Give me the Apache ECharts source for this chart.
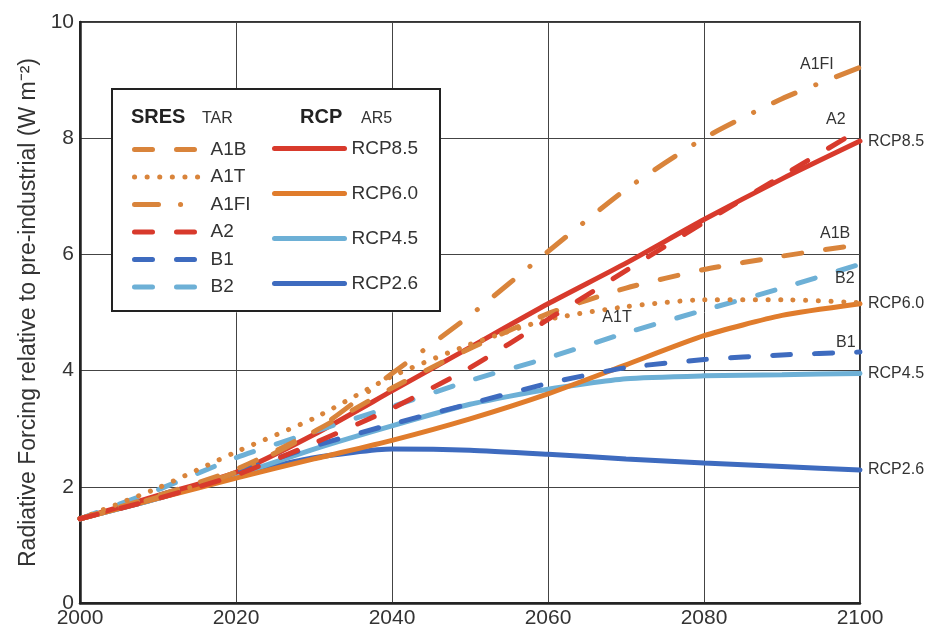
<!DOCTYPE html>
<html>
<head>
<meta charset="utf-8">
<script src="https://cdn.jsdelivr.net/npm/echarts@6/dist/echarts.min.js"></script>
<style>
  html, body { margin: 0; padding: 0; background: #fff; }
  #chart { width: 930px; height: 629px; }
</style>
</head>
<body>
<div id="chart"></div>
<script>
// years on the x axis
const years = [2000, 2010, 2020, 2030, 2040, 2050, 2060, 2070, 2080, 2090, 2100];

// RCP (AR5) forcing, W m-2
const rcp85 = [1.45, 1.85, 2.25, 2.9, 3.65, 4.4, 5.15, 5.85, 6.6, 7.3, 7.95];
const rcp60 = [1.45, 1.8, 2.15, 2.48, 2.8, 3.17, 3.6, 4.1, 4.6, 4.95, 5.15];
const rcp45 = [1.45, 1.8, 2.2, 2.65, 3.05, 3.42, 3.68, 3.86, 3.91, 3.93, 3.95];
const rcp26 = [1.45, 1.8, 2.2, 2.5, 2.65, 2.63, 2.56, 2.48, 2.41, 2.35, 2.29];

// SRES (TAR) forcing, W m-2
const a1b = [1.45, 1.85, 2.3, 2.95, 3.7, 4.38, 4.98, 5.42, 5.74, 5.97, 6.17];
const a1t = [1.45, 1.98, 2.6, 3.18, 3.9, 4.45, 4.88, 5.1, 5.22, 5.22, 5.17];
const a1fi = [1.45, 1.82, 2.25, 2.95, 3.95, 4.95, 6.05, 7.12, 8.0, 8.68, 9.22];
const a2 = [1.45, 1.8, 2.2, 2.75, 3.35, 4.05, 4.88, 5.72, 6.55, 7.35, 8.15];
const b1 = [1.45, 1.85, 2.25, 2.7, 3.08, 3.43, 3.78, 4.05, 4.19, 4.27, 4.32];
const b2 = [1.45, 1.95, 2.5, 2.95, 3.38, 3.83, 4.22, 4.65, 5.04, 5.42, 5.83];

const sresNames = ['A1B', 'A1T', 'A1FI', 'A2', 'B1', 'B2'];
const rcpNames = ['RCP8.5', 'RCP6.0', 'RCP4.5', 'RCP2.6'];

const ORANGE = '#d9843b';
const ORANGE_RCP = '#e07c2c';
const RED = '#d83a2c';
const DBLUE = '#3e6bbf';
const LBLUE = '#6db0d6';

const DASH = [18, 24];
const DOT = [0.1, 12.5];
const DASHDOT = [24, 22, 0.1, 22];

const pairs = (vals) => years.map((y, i) => [y, vals[i]]);

const labelFont = { fontSize: 16, color: '#333', fontFamily: 'Liberation Sans' };

function line(name, vals, color, type, z, endLabel) {
  return {
    name: name,
    type: 'line',
    data: pairs(vals),
    symbol: 'none',
    smooth: 0.2,
    z: z,
    lineStyle: { color: color, width: 5, type: type, cap: 'round' },
    itemStyle: { color: color },
    endLabel: endLabel ? Object.assign({ show: true, formatter: '{a}', distance: 5 }, labelFont, endLabel) : { show: false },
    emphasis: { disabled: true }
  };
}

const series = [
  line('RCP2.6', rcp26, DBLUE, 'solid', 2, { offset: [3, 0] }),
  line('RCP4.5', rcp45, LBLUE, 'solid', 2, { offset: [3, 0] }),
  line('RCP6.0', rcp60, ORANGE_RCP, 'solid', 2, { offset: [3, 0] }),
  line('B1', b1, DBLUE, DASH, 3, { offset: [-29, -9] }),
  line('B2', b2, LBLUE, DASH, 3, { offset: [-30, 14] }),
  line('A1T', a1t, ORANGE, DOT, 3, null),
  line('A1B', a1b, ORANGE, DASH, 3, { offset: [-45, -11] }),
  line('A1FI', a1fi, ORANGE, DASHDOT, 3, { offset: [-65, -3] }),
  line('RCP8.5', rcp85, RED, 'solid', 2, { offset: [3, 0] }),
  line('A2', a2, RED, DASH, 3, { offset: [-39, -10] })
];

// A1T name sits just under its curve near 2070
const i2070 = years.indexOf(2070);
series[5].markPoint = {
  symbol: 'circle',
  symbolSize: 0,
  silent: true,
  label: Object.assign({ show: true, position: 'bottom', formatter: 'A1T', distance: 5, offset: [-9, -2] }, labelFont),
  data: [{ coord: [years[i2070], a1t[i2070]] }]
};

const chart = echarts.init(document.getElementById('chart'));

chart.setOption({
  animation: false,
  textStyle: { fontFamily: 'Liberation Sans' },
  grid: {
    left: 80, right: 70, top: 22, bottom: 25,
    show: true, borderColor: '#333', borderWidth: 2
  },
  xAxis: {
    type: 'value',
    min: 2000, max: 2100, interval: 20,
    axisLine: { show: true, lineStyle: { color: '#222', width: 2.5 } },
    axisTick: { show: false },
    axisLabel: { fontSize: 21, color: '#333', margin: 5, formatter: (v) => String(v) },
    splitLine: { show: true, lineStyle: { color: '#444', width: 1 } }
  },
  yAxis: {
    type: 'value',
    min: 0, max: 10, interval: 2,
    name: 'Radiative Forcing relative to pre-industrial (W m⁻²)',
    nameLocation: 'middle',
    nameGap: 36,
    nameTextStyle: { fontSize: 23, color: '#333' },
    axisLine: { show: true, lineStyle: { color: '#222', width: 2.5 } },
    axisTick: { show: false },
    axisLabel: { fontSize: 21, color: '#333', margin: 6 },
    splitLine: { show: true, lineStyle: { color: '#444', width: 1 } }
  },
  legend: [
    {
      data: sresNames,
      orient: 'vertical',
      left: 127, top: 135,
      itemWidth: 68, itemHeight: 14, itemGap: 8.5,
      selectedMode: false,
      itemStyle: { opacity: 0 },
      lineStyle: { width: 5, cap: 'round' },
      textStyle: { fontSize: 19, color: '#333', padding: [0, 0, 0, 3] }
    },
    {
      data: rcpNames,
      orient: 'vertical',
      left: 267, top: 134,
      itemWidth: 70, itemHeight: 14, itemGap: 26,
      selectedMode: false,
      itemStyle: { opacity: 0 },
      lineStyle: { width: 5, cap: 'round' },
      textStyle: { fontSize: 19, color: '#333', padding: [0, 0, 0, 2] }
    }
  ],
  graphic: [
    {
      type: 'rect', z: 3,
      shape: { x: 112, y: 89, width: 328, height: 222 },
      style: { fill: '#fff', stroke: '#222', lineWidth: 2 }
    },
    { type: 'text', z: 5, left: 131, top: 107, style: { text: 'SRES', font: 'bold 20px "Liberation Sans"', fill: '#222' } },
    { type: 'text', z: 5, left: 202, top: 111, style: { text: 'TAR', font: '16px "Liberation Sans"', fill: '#333' } },
    { type: 'text', z: 5, left: 300, top: 107, style: { text: 'RCP', font: 'bold 20px "Liberation Sans"', fill: '#222' } },
    { type: 'text', z: 5, left: 361, top: 111, style: { text: 'AR5', font: '16px "Liberation Sans"', fill: '#333' } }
  ],
  series: series
});
</script>
</body>
</html>
